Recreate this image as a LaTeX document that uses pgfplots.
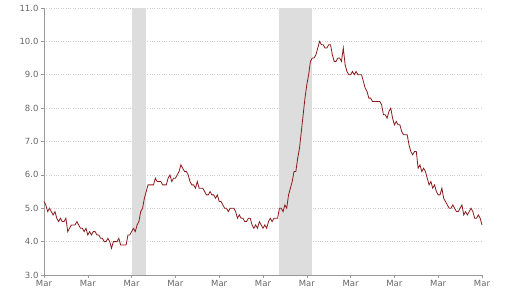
\documentclass[border=0pt]{standalone}
\usepackage{pgfplots}
\pgfplotsset{compat=1.18}
\usepackage{pgfplotstable}
\usepackage{fontspec}
\setmainfont{DejaVu Sans}
\definecolor{linecol}{HTML}{8B1A1A}
\definecolor{shade}{HTML}{DDDDDD}
\definecolor{labcol}{HTML}{666666}
\definecolor{axcol}{HTML}{999999}
\definecolor{gridcol}{HTML}{CCCCCC}
\pgfplotstableread{
v
5.2
5.1
4.9
5.0
4.9
4.8
4.9
4.7
4.6
4.7
4.6
4.6
4.7
4.3
4.4
4.5
4.5
4.5
4.6
4.5
4.4
4.4
4.3
4.4
4.2
4.3
4.2
4.3
4.3
4.2
4.2
4.1
4.1
4.0
4.0
4.1
4.0
3.8
4.0
4.0
4.0
4.1
3.9
3.9
3.9
3.9
4.2
4.2
4.3
4.4
4.3
4.5
4.6
4.9
5.0
5.3
5.5
5.7
5.7
5.7
5.7
5.9
5.8
5.8
5.8
5.7
5.7
5.7
5.9
6.0
5.8
5.9
5.9
6.0
6.1
6.3
6.2
6.1
6.1
6.0
5.8
5.7
5.7
5.6
5.8
5.6
5.6
5.6
5.5
5.4
5.4
5.5
5.4
5.4
5.3
5.4
5.2
5.2
5.1
5.0
5.0
4.9
5.0
5.0
5.0
4.9
4.7
4.8
4.7
4.7
4.6
4.6
4.7
4.7
4.5
4.4
4.5
4.4
4.6
4.5
4.4
4.5
4.4
4.6
4.7
4.6
4.7
4.7
4.7
5.0
5.0
4.9
5.1
5.0
5.4
5.6
5.8
6.1
6.1
6.5
6.8
7.3
7.8
8.3
8.7
9.0
9.4
9.5
9.5
9.6
9.8
10.0
9.9
9.9
9.8
9.8
9.9
9.9
9.6
9.4
9.4
9.5
9.5
9.4
9.8
9.3
9.1
9.0
9.0
9.1
9.0
9.1
9.0
9.0
9.0
8.8
8.6
8.5
8.3
8.3
8.2
8.2
8.2
8.2
8.2
8.1
7.8
7.8
7.7
7.9
8.0
7.7
7.5
7.6
7.5
7.5
7.3
7.2
7.2
7.2
6.9
6.7
6.6
6.7
6.7
6.2
6.3
6.1
6.2
6.1
5.9
5.7
5.8
5.6
5.7
5.5
5.4
5.4
5.6
5.3
5.2
5.1
5.0
5.0
5.1
5.0
4.9
4.9
5.0
5.1
4.8
4.9
4.8
4.9
5.0
4.9
4.7
4.7
4.8
4.7
4.5
}\unrate
\begin{document}
\begin{tikzpicture}
\begin{axis}[
  at={(44pt,13pt)}, anchor=south west,
  scale only axis, width=438pt, height=267pt,
  xmin=0, xmax=240, ymin=3, ymax=11,
  axis x line*=bottom, axis y line*=left,
  axis line style={axcol, line width=0.8pt, -},
  xtick={0,24,...,240},
  xticklabels={Mar,Mar,Mar,Mar,Mar,Mar,Mar,Mar,Mar,Mar,Mar},
  ytick={3,4,...,11},
  yticklabel style={/pgf/number format/.cd, fixed, fixed zerofill, precision=1, assume math mode=true},
  tick label style={font=\fontsize{8.5}{10}\selectfont, text=labcol},
  xticklabel style={inner ysep=1pt, text depth=0pt, yshift=-1pt},
  tick style={axcol, line width=0.6pt},
  tick align=outside, major tick length=3pt,
  xtick pos=bottom, ytick pos=left,
  ymajorgrids, grid style={gridcol, dotted, line width=0.7pt},
  yticklabel shift=-1pt,
  clip=false,
]
\addplot[fill=shade, draw=none] coordinates {(48,11) (56,11)} \closedcycle;
\addplot[fill=shade, draw=none] coordinates {(129,11) (147,11)} \closedcycle;
\addplot[linecol, line width=0.8pt] table[x expr=\coordindex, y=v] {\unrate};
\end{axis}
\pgfresetboundingbox
\useasboundingbox (0,0) rectangle (512pt,288pt);
\end{tikzpicture}
\end{document}
